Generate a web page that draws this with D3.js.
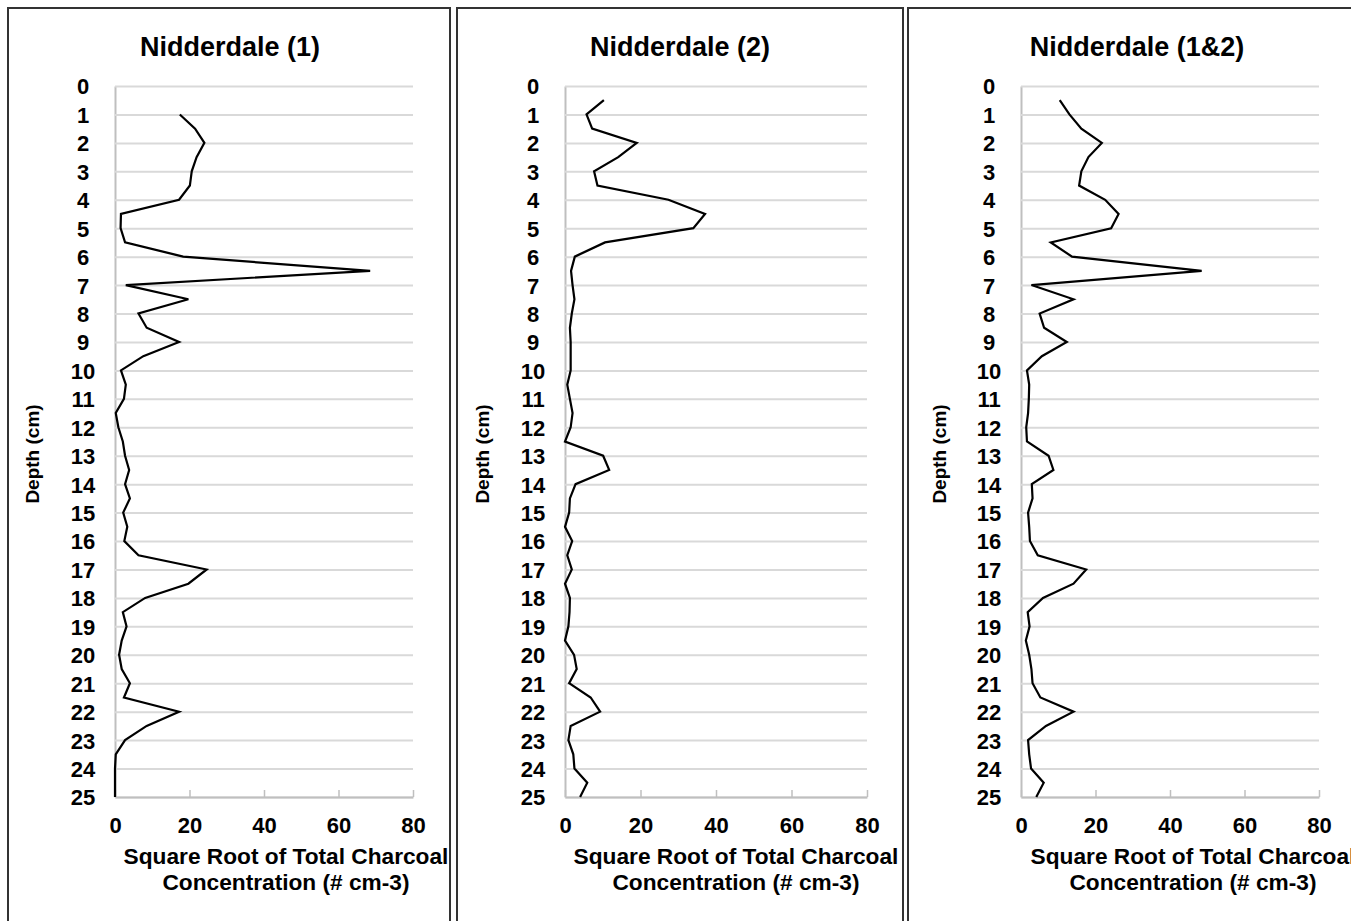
<!DOCTYPE html>
<html>
<head>
<meta charset="utf-8">
<script src="https://cdn.jsdelivr.net/npm/d3@7"></script>
<style>
  body { margin: 0; background: #fff; }
  svg { display: block; font-family: "Liberation Sans", Arial, sans-serif; font-weight: bold; }
</style>
</head>
<body>
<div id="chart"></div>
<script>
// depth of each sample (cm)
var depths = [0.5, 1, 1.5, 2, 2.5, 3, 3.5, 4, 4.5, 5, 5.5, 6, 6.5, 7, 7.5, 8, 8.5, 9, 9.5, 10,
  10.5, 11, 11.5, 12, 12.5, 13, 13.5, 14, 14.5, 15, 15.5, 16, 16.5, 17, 17.5, 18, 18.5, 19, 19.5, 20,
  20.5, 21, 21.5, 22, 22.5, 23, 23.5, 24, 24.5, 25];

var core1 = [null, 17.4, 21.5, 24.0, 21.9, 20.6, 20.1, 17.2, 1.6, 1.5, 2.7, 18.3, 68.5, 2.9, 19.7, 6.3, 8.5, 17.2, 7.6, 1.6,
  2.9, 2.4, 0.2, 0.9, 2.1, 2.7, 3.8, 2.7, 4.0, 2.2, 3.3, 2.5, 6.3, 24.6, 19.7, 8.1, 2.1, 3.1, 1.8, 1.1,
  1.8, 4.0, 2.4, 17.2, 8.5, 2.7, 0.2, 0, 0, 0];

var core2 = [10.3, 5.7, 7.2, 19.0, 14.1, 7.7, 8.6, 27.4, 37.1, 34.0, 10.6, 2.6, 1.6, 2.0, 2.5, 1.8, 1.3, 1.5, 1.5, 1.5,
  0.6, 1.3, 2.0, 1.5, 0, 10.1, 11.7, 2.8, 1.3, 1.1, 0, 1.9, 0.6, 1.8, 0, 1.3, 1.2, 0.9, 0, 2.4,
  3.1, 1.1, 6.8, 9.3, 1.5, 0.9, 2.2, 2.5, 5.9, 4.0];

var core12 = [10.4, 13.0, 16.2, 21.7, 18.1, 16.2, 15.6, 22.6, 26.2, 24.2, 8.0, 13.7, 48.5, 2.8, 14.1, 5.0, 6.2, 12.3, 5.6, 1.6,
  2.2, 2.1, 1.9, 1.4, 1.6, 7.4, 8.7, 2.9, 3.1, 1.9, 2.2, 2.4, 4.5, 17.5, 14.1, 5.9, 1.8, 2.3, 1.3, 2.2,
  2.8, 3.1, 5.2, 14.1, 6.7, 1.9, 2.2, 2.7, 6.1, 4.1];

var titles = ["Nidderdale (1)", "Nidderdale (2)", "Nidderdale (1&2)"];
var depthTicks = [0, 1, 2, 3, 4, 5, 6, 7, 8, 9, 10, 11, 12, 13, 14, 15, 16, 17, 18, 19, 20, 21, 22, 23, 24, 25];
var xTicks = [0, 20, 40, 60, 80];

var width = 1351, height = 921;

// panel layout: origin, plot left/width, border edges
var panels = [
  {ox: 0,   left: 115,  w: 298, bl: 8,   br: 450,  values: core1},
  {ox: 450, left: 565,  w: 302, bl: 457, br: 903,  values: core2},
  {ox: 907, left: 1021, w: 298, bl: 908, br: 1353, values: core12}
];

var svg = d3.select("#chart").append("svg")
    .attr("width", width)
    .attr("height", height);

var y = d3.scaleLinear()
  .domain([0, 25])
  .range([86, 797]);

panels.forEach(function(p, i) {
  var g = svg.append("g");

  // panel frame (runs off the bottom of the picture)
  g.append("path")
    .attr("d", "M" + p.bl + "," + 940 + "V8H" + p.br + "V940")
    .attr("fill", "none")
    .attr("stroke", "#333")
    .attr("stroke-width", 2);

  var x = d3.scaleLinear()
    .domain([0, 80])
    .range([p.left, p.left + p.w]);

  // y axis with gridlines
  var yAxis = d3.axisLeft(y).tickValues(depthTicks).tickSize(-p.w).tickSizeOuter(0).tickFormat(d3.format("d"));
  var ya = g.append("g")
    .attr("transform", "translate(" + p.left + ",0)")
    .call(yAxis);
  ya.select(".domain").attr("stroke", "#bfbfbf").attr("stroke-width", 2);
  ya.selectAll(".tick line").attr("stroke", "#d9d9d9").attr("stroke-width", 2);
  ya.selectAll(".tick text")
    .attr("x", -32)
    .attr("dy", "0.36em")
    .attr("text-anchor", "middle")
    .attr("fill", "#000")
    .style("font-size", "22px");

  // x axis
  var xAxis = d3.axisBottom(x).tickValues(xTicks).tickSize(-7).tickSizeOuter(0);
  var xa = g.append("g")
    .attr("transform", "translate(0," + y(25) + ")")
    .call(xAxis);
  xa.select(".domain").attr("stroke", "#bfbfbf").attr("stroke-width", 2);
  xa.selectAll(".tick line").attr("stroke", "#bfbfbf").attr("stroke-width", 1.5);
  xa.selectAll(".tick text")
    .attr("y", 28)
    .attr("dy", "0.36em")
    .attr("fill", "#000")
    .style("font-size", "22px");

  var pts = depths.map(function(d, k) { return {depth: d, v: p.values[k]}; });
  var line = d3.line()
    .defined(function(d) { return d.v != null; })
    .x(function(d) { return x(d.v); })
    .y(function(d) { return y(d.depth); });

  g.append("path")
    .attr("d", line(pts))
    .attr("fill", "none")
    .attr("stroke", "#000")
    .attr("stroke-width", 2.2)
    .attr("stroke-linejoin", "miter");

  // titles
  g.append("text")
    .attr("x", p.ox + 230)
    .attr("y", 56)
    .attr("text-anchor", "middle")
    .style("font-size", "27px")
    .text(titles[i]);

  g.append("text")
    .attr("transform", "translate(" + (p.ox + 39) + ",454) rotate(-90)")
    .attr("text-anchor", "middle")
    .style("font-size", "19px")
    .text("Depth (cm)");

  g.append("text")
    .attr("x", p.ox + 286)
    .attr("y", 864)
    .attr("text-anchor", "middle")
    .style("font-size", "22.7px")
    .text("Square Root of Total Charcoal");

  g.append("text")
    .attr("x", p.ox + 286)
    .attr("y", 890)
    .attr("text-anchor", "middle")
    .style("font-size", "22.7px")
    .text("Concentration (# cm-3)");
});
</script>
</body>
</html>
